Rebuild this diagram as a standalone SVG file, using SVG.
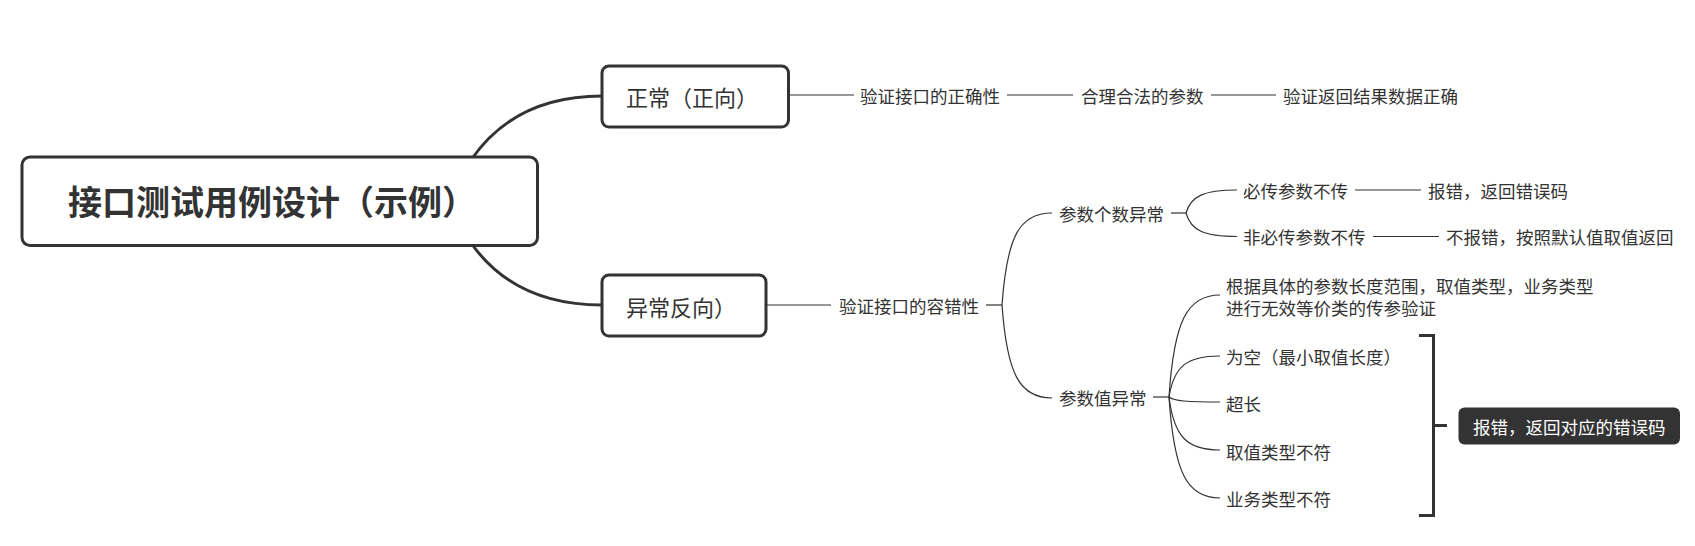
<svg xmlns="http://www.w3.org/2000/svg" width="1695" height="546" viewBox="0 0 1695 546">
<style>
  .t { font-family: "Noto Sans CJK SC", "Noto Sans", sans-serif; fill: #333; dominant-baseline: central; }
  .s { font-size: 17.5px; }
  .n { font-size: 22px; }
  .root { font-size: 34px; font-weight: bold; }
  .box { fill: #fff; stroke: #333; stroke-width: 3; }
  .thick { fill: none; stroke: #333; stroke-width: 3; stroke-linecap: round; }
  .thin { fill: none; stroke: #333; stroke-width: 1.2; }
  .br { fill: none; stroke: #333; stroke-width: 3; }
</style>
<rect width="1695" height="546" fill="#fff"/>
<g id="connectors">
  <path class="thick" d="M471,160 C495,125 535,96 602,96"/>
  <path class="thick" d="M471,243 C495,277 535,305 602,305"/>
  <path class="thin" d="M789,95 H854"/>
  <path class="thin" d="M1007,95 H1073"/>
  <path class="thin" d="M1211,95 H1276"/>
  <path class="thin" d="M766,305 H831"/>
  <path class="thin" d="M986,305 H1002"/>
  <path class="thin" d="M1002,305 C1007,236 1019.5,213 1052,213"/>
  <path class="thin" d="M1002,305 C1007,374 1019.5,398 1052,398"/>
  <path class="thin" d="M1171,213 H1186"/>
  <path class="thin" d="M1186,213 C1191,196 1204,190 1237,190"/>
  <path class="thin" d="M1186,213 C1191,230.5 1204,236.5 1237,236.5"/>
  <path class="thin" d="M1355,190 H1421"/>
  <path class="thin" d="M1373,236.5 H1439"/>
  <path class="thin" d="M1153,397 H1169"/>
  <path class="thin" d="M1169,397 C1174,321 1187,295 1220,295"/>
  <path class="thin" d="M1169,397 C1174,366 1187,356 1220,356"/>
  <path class="thin" d="M1169,397 C1174,401 1187,402 1220,402"/>
  <path class="thin" d="M1169,397 C1174,437 1187,450 1220,450"/>
  <path class="thin" d="M1169,397 C1174,473 1187,498 1220,498"/>
  <path class="br" d="M1419,335.5 H1433.5 V515.5 H1419"/>
  <path class="br" d="M1433.5,425.5 H1447"/>
</g>
<g id="root">
  <rect class="box" x="22" y="157" width="515.5" height="88.5" rx="8"/>
  <text class="t root" x="68" y="200">接口测试用例设计（示例）</text>
</g>
<g id="normal">
  <rect class="box" x="602" y="66" width="186.5" height="61" rx="7"/>
  <text class="t n" x="626" y="96">正常（正向）</text>
</g>
<g id="abnormal">
  <rect class="box" x="602" y="275" width="164" height="61" rx="7"/>
  <text class="t n" x="626" y="305.5">异常反向）</text>
</g>
<g id="n-correct"><text class="t s" x="860" y="95">验证接口的正确性</text></g>
<g id="n-legal"><text class="t s" x="1081" y="95">合理合法的参数</text></g>
<g id="n-return"><text class="t s" x="1283" y="95">验证返回结果数据正确</text></g>
<g id="n-tolerance"><text class="t s" x="839" y="305">验证接口的容错性</text></g>
<g id="n-count"><text class="t s" x="1059" y="213">参数个数异常</text></g>
<g id="n-required"><text class="t s" x="1243" y="190">必传参数不传</text></g>
<g id="n-required-res"><text class="t s" x="1428" y="190">报错，返回错误码</text></g>
<g id="n-optional"><text class="t s" x="1243" y="236.5">非必传参数不传</text></g>
<g id="n-optional-res"><text class="t s" x="1446" y="236.5">不报错，按照默认值取值返回</text></g>
<g id="n-value"><text class="t s" x="1059" y="397">参数值异常</text></g>
<g id="n-range">
  <text class="t s" x="1226" y="285">根据具体的参数长度范围，取值类型，业务类型<tspan x="1226" y="306.5">进行无效等价类的传参验证</tspan></text>
</g>
<g id="n-empty"><text class="t s" x="1226" y="356.5">为空（最小取值长度）</text></g>
<g id="n-long"><text class="t s" x="1226" y="403">超长</text></g>
<g id="n-type"><text class="t s" x="1226" y="451">取值类型不符</text></g>
<g id="n-biz"><text class="t s" x="1226" y="498">业务类型不符</text></g>
<g id="n-error">
  <rect x="1458.5" y="407.5" width="221.5" height="37" rx="6" fill="#333"/>
  <text class="t s" x="1473" y="426" style="fill:#fff">报错，返回对应的错误码</text>
</g>
</svg>
